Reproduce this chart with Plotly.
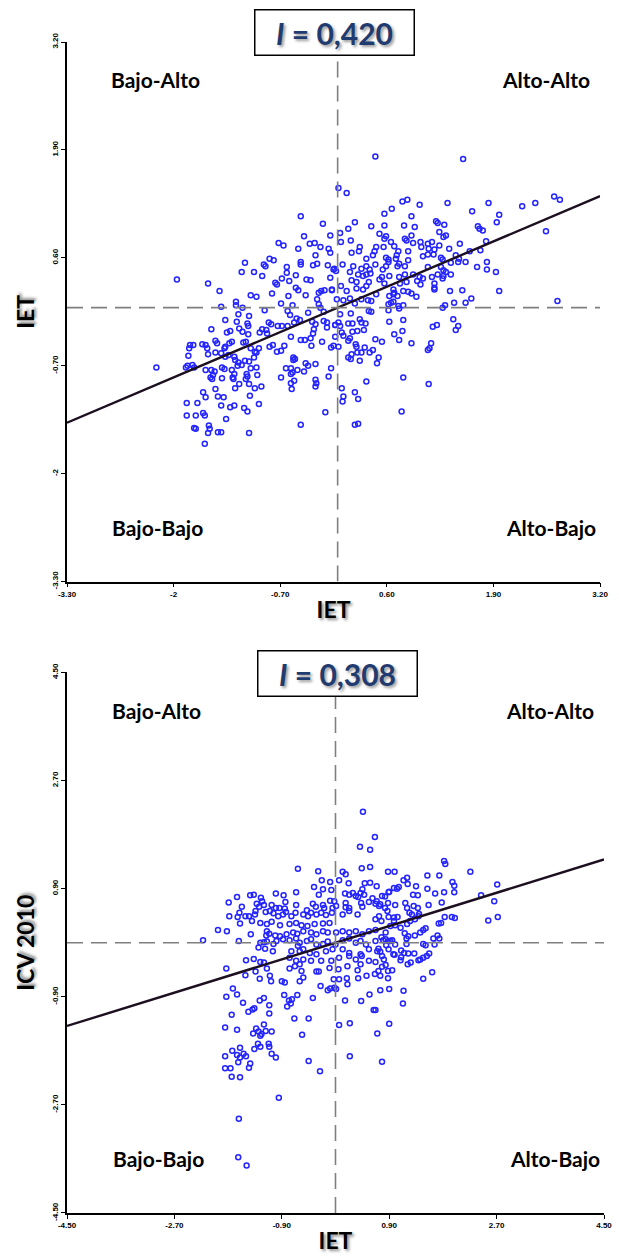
import plotly.graph_objects as go

# Moran scatter plots: IET vs spatial lag of IET, and IET vs ICV 2010
moran_i = [0.420, 0.308]
moran_text = ['0,420', '0,308']

ticks_1 = [-3.30, -2.0, -0.70, 0.60, 1.90, 3.20]
ticktext_1 = ['-3.30', '-2', '-0.70', '0.60', '1.90', '3.20']
ticks_2 = [-4.50, -2.70, -0.90, 0.90, 2.70, 4.50]
ticktext_2 = ['-4.50', '-2.70', '-0.90', '0.90', '2.70', '4.50']

quadrants = ['Bajo-Alto', 'Alto-Alto', 'Bajo-Bajo', 'Alto-Bajo']

points_1 = [
    (-0.45, 1.10), (-0.18, 1.01), (-0.41, 0.86), (-0.09, 0.87), (-0.72, 0.78), (-0.66, 0.75),
    (-0.48, 0.71), (-0.34, 0.77), (-0.28, 0.78), (-0.21, 0.73), (-0.11, 0.71), (-0.09, 0.66),
    (-0.27, 0.63), (-0.83, 0.59), (-0.78, 0.57), (-1.13, 0.54), (-0.90, 0.52), (-0.88, 0.50),
    (-0.62, 0.49), (-0.45, 0.55), (-0.45, 0.52), (-0.30, 0.51), (-0.25, 0.53), (-0.12, 0.51),
    (-0.05, 0.46), (-1.96, 0.34), (-1.58, 0.29), (-1.44, 0.20), (-1.17, 0.43), (-1.02, 0.43),
    (-0.92, 0.38), (-0.68, 0.35), (-0.62, 0.42), (-0.59, 0.32), (-0.51, 0.39), (-0.38, 0.34),
    (-0.33, 0.33), (-0.09, 0.36), (-0.76, 0.30), (-0.74, 0.28), (-0.51, 0.24), (-0.48, 0.21),
    (-1.06, 0.15), (-0.99, 0.13), (-0.80, 0.17), (-0.60, 0.14), (-0.39, 0.15), (-0.23, 0.18),
    (-0.20, 0.20), (-0.16, 0.21), (-0.07, 0.22),
    (-1.42, 0.01), (-1.24, 0.07), (-1.24, 0.03), (-1.16, 0.00), (-1.21, -0.08), (-1.08, -0.10),
    (-0.89, -0.03), (-0.69, 0.05), (-0.55, 0.03), (-0.61, -0.04), (-0.58, -0.09), (-0.50, -0.13),
    (-0.36, -0.06), (-0.25, 0.10), (-0.23, 0.04), (-0.21, 0.00), (-0.17, -0.05), (-1.37, -0.15),
    (-1.23, -0.17), (-1.10, -0.19), (-1.09, -0.22), (-1.20, -0.25), (-1.16, -0.29), (-1.35, -0.30),
    (-1.31, -0.28), (-1.54, -0.26), (-1.09, -0.32), (-0.95, -0.30), (-0.92, -0.26), (-0.87, -0.27),
    (-0.84, -0.18), (-0.81, -0.20), (-0.73, -0.22), (-0.68, -0.22), (-0.61, -0.22), (-0.53, -0.18),
    (-0.46, -0.15), (-0.31, -0.17), (-0.27, -0.20), (-0.29, -0.26), (-0.30, -0.31), (-0.17, -0.16),
    (-0.13, -0.24), (-0.03, -0.21), (-0.03, -0.35), (-0.86, -0.31), (-0.57, -0.35), (-0.45, -0.39),
    (-0.40, -0.39), (-0.33, -0.37), (-1.49, -0.40), (-1.47, -0.43), (-1.15, -0.42), (-1.12, -0.41),
    (-1.32, -0.43), (-1.29, -0.41), (-1.37, -0.47), (-1.42, -0.55), (-1.38, -0.49), (-1.06, -0.49),
    (-0.96, -0.49), (-0.79, -0.45), (-0.83, -0.47), (-0.74, -0.53), (-0.69, -0.52), (-0.65, -0.46),
    (-0.32, -0.46), (-0.19, -0.41), (-0.08, -0.48), (-0.05, -0.46), (-1.80, -0.45), (-1.76, -0.45),
    (-1.81, -0.49), (-1.82, -0.58), (-1.65, -0.44), (-1.59, -0.49), (-1.61, -0.45), (-1.49, -0.54),
    (-1.58, -0.56), (-1.37, -0.59), (-1.26, -0.59), (-1.33, -0.57), (-1.25, -0.63), (-1.21, -0.66),
    (-1.17, -0.69), (-1.22, -0.70), (-1.13, -0.64), (-1.08, -0.65), (-1.02, -0.60), (-1.01, -0.53),
    (-0.99, -0.54), (-1.85, -0.72), (-1.83, -0.70), (-1.77, -0.69), (-1.75, -0.72), (-1.61, -0.75),
    (-1.54, -0.75), (-1.52, -0.81), (-1.55, -0.84), (-1.53, -0.86), (-1.50, -0.77), (-1.41, -0.72),
    (-1.38, -0.74), (-1.41, -0.85), (-1.29, -0.75), (-1.26, -0.80), (-1.28, -0.84), (-1.27, -0.86),
    (-1.11, -0.80), (-1.10, -0.83), (-1.12, -0.86), (-1.08, -0.92), (-1.06, -0.73), (-0.99, -0.72),
    (-0.98, -0.81), (-2.21, -0.72), (-1.25, -0.97), (-1.20, -0.92), (-1.01, -0.97), (-0.93, -0.95),
    (-1.49, -0.98), (-1.64, -1.02), (-1.61, -1.08), (-1.46, -1.07), (-1.39, -1.08), (-1.07, -1.06),
    (-1.84, -1.15), (-1.71, -1.15), (-1.42, -1.18), (-1.31, -1.20), (-1.26, -1.18), (-1.14, -1.21),
    (-1.10, -1.25), (-0.96, -1.16), (-1.84, -1.30), (-1.73, -1.30), (-1.64, -1.27), (-1.62, -1.30),
    (-1.36, -1.34), (-1.75, -1.45), (-1.73, -1.46), (-1.57, -1.42), (-1.56, -1.46), (-1.58, -1.51),
    (-1.46, -1.50), (-1.42, -1.50), (-1.08, -1.51), (-1.62, -1.64), (-0.69, -0.84), (-0.63, -0.73),
    (-0.57, -0.73), (-0.57, -0.80), (-0.55, -0.78), (-0.57, -0.91), (-0.56, -0.98), (-0.53, -0.88),
    (-0.49, -0.75), (-0.41, -0.77), (-0.39, -0.67), (-0.36, -0.70), (-0.27, -0.68), (-0.54, -0.60),
    (-0.52, -0.62), (-0.54, -0.63), (-0.27, -0.87), (-0.26, -0.91), (-0.27, -0.95), (-0.11, -0.83),
    (-0.08, -0.73), (-0.45, -1.41), (-0.15, -1.26),
    (-0.01, 0.10), (0.07, 0.09), (0.15, 0.11), (-0.07, 0.21), (0.21, 0.05), (0.29, 0.10),
    (0.37, 0.09), (0.41, 0.08), (0.03, -0.08), (0.16, -0.07), (0.38, -0.04), (0.41, -0.05),
    (-0.13, -0.18), (-0.03, -0.21), (0.01, -0.18), (0.03, -0.22), (0.13, -0.19), (0.18, -0.19),
    (0.27, -0.14), (0.29, -0.18), (0.34, -0.19), (0.05, -0.30), (0.07, -0.34), (0.13, -0.40),
    (0.15, -0.37), (0.18, -0.29), (0.24, -0.28), (0.32, -0.27), (0.01, -0.47), (0.22, -0.44),
    (0.23, -0.47), (0.33, -0.48), (0.43, -0.51), (0.39, -0.54), (0.46, -0.38), (0.54, -0.41),
    (0.24, -0.54), (0.29, -0.54), (0.13, -0.60), (0.16, -0.62), (0.17, -0.56), (0.27, -0.64),
    (0.50, -0.60), (0.48, -0.67), (0.35, -0.89), (0.05, -0.97), (0.07, -1.07), (0.06, -1.13),
    (0.21, -1.02), (0.25, -1.10), (0.21, -1.41), (0.25, -1.40), (0.63, -0.17), (0.62, -0.03),
    (0.62, 0.04), (0.65, 0.06), (0.68, 0.07), (0.74, 0.02), (0.75, -0.01), (0.80, 0.03),
    (0.63, 0.14), (0.68, 0.16), (0.73, 0.14), (0.80, -0.15), (0.79, -0.28), (0.69, -0.32),
    (0.75, -0.39), (0.90, -0.43), (0.80, -0.84), (0.78, -1.25), (0.80, 0.20), (0.86, 0.19),
    (0.90, 0.17), (0.96, 0.13), (1.18, 0.22), (1.28, 0.00), (1.31, 0.03), (1.16, -0.23),
    (1.21, -0.21), (1.14, -0.43), (1.12, -0.49), (1.10, -0.51), (1.11, -0.92), (1.37, 0.20),
    (1.52, 0.21), (1.42, 0.06), (1.56, 0.06), (1.63, 0.11), (1.41, -0.14), (1.47, -0.22),
    (1.44, -0.27), (1.97, 0.20), (2.68, 0.08),
    (0.46, 1.82), (1.53, 1.79), (0.01, 1.44), (0.11, 1.38), (0.79, 1.28), (0.85, 1.30),
    (1.00, 1.24), (1.34, 1.26), (1.84, 1.26), (2.25, 1.22), (2.41, 1.26), (2.64, 1.34),
    (2.71, 1.30), (0.66, 1.19), (0.57, 1.13), (1.64, 1.16), (0.90, 1.10), (1.97, 1.12),
    (1.94, 1.03), (0.21, 1.03), (0.41, 0.98), (0.57, 0.99), (0.81, 0.99), (0.94, 0.97),
    (1.20, 1.04), (1.22, 1.02), (1.30, 1.00), (1.71, 0.98), (1.73, 0.95), (1.77, 0.93),
    (2.54, 0.92), (0.03, 0.90), (0.13, 0.95), (0.51, 0.89), (0.59, 0.86), (0.57, 0.83),
    (0.82, 0.83), (0.84, 0.81), (0.90, 0.87), (1.24, 0.91), (1.29, 0.85), (1.32, 0.87),
    (0.04, 0.79), (0.16, 0.81), (0.65, 0.79), (0.69, 0.74), (0.92, 0.78), (1.01, 0.79),
    (1.02, 0.73), (1.10, 0.77), (1.15, 0.79), (1.11, 0.71), (1.18, 0.70), (1.24, 0.75),
    (1.36, 0.71), (1.49, 0.77), (1.81, 0.80), (0.17, 0.66), (0.27, 0.73), (0.26, 0.68),
    (0.47, 0.73), (0.45, 0.68), (0.56, 0.73), (0.74, 0.68), (0.72, 0.63), (0.71, 0.59),
    (0.86, 0.68), (1.04, 0.62), (1.10, 0.64), (1.17, 0.64), (1.26, 0.60), (1.28, 0.58),
    (1.44, 0.63), (1.48, 0.59), (1.61, 0.68), (1.74, 0.69), (0.35, 0.59), (0.43, 0.63),
    (0.59, 0.60), (0.62, 0.58), (0.62, 0.55), (0.06, 0.52), (0.19, 0.50), (0.29, 0.47),
    (0.35, 0.50), (0.39, 0.46), (0.46, 0.52), (0.55, 0.46), (0.59, 0.50), (0.73, 0.50),
    (0.75, 0.53), (0.86, 0.57), (0.82, 0.50), (1.10, 0.49), (1.26, 0.49), (1.29, 0.45),
    (1.38, 0.54), (1.47, 0.55), (1.56, 0.55), (1.70, 0.49), (1.82, 0.55), (1.82, 0.46),
    (1.93, 0.43), (-0.04, 0.47), (-0.02, 0.44), (0.15, 0.43), (0.25, 0.40), (0.31, 0.38),
    (0.35, 0.40), (0.40, 0.41), (0.54, 0.37), (0.63, 0.38), (0.75, 0.37), (0.82, 0.40),
    (0.92, 0.40), (1.00, 0.37), (1.04, 0.35), (0.97, 0.32), (1.15, 0.37), (1.22, 0.40),
    (1.32, 0.43), (1.29, 0.38), (1.38, 0.40), (0.17, 0.33), (0.23, 0.31), (0.38, 0.31),
    (0.51, 0.34), (0.57, 0.29), (0.76, 0.29), (0.84, 0.31), (1.01, 0.28), (1.18, 0.29),
    (1.18, 0.24), (1.28, 0.35), (0.04, 0.26), (0.11, 0.20), (0.23, 0.23), (0.31, 0.22),
    (0.35, 0.26), (0.68, 0.22), (0.69, 0.18), (0.47, 0.16),
]

points_2 = [
    (0.46, 2.18), (0.66, 1.76), (0.41, 1.60), (0.58, 1.55), (-0.63, 1.23), (-0.29, 1.19),
    (0.12, 1.18), (0.17, 1.14), (0.44, 1.24), (0.58, 1.26), (0.88, 1.18), (0.99, 1.18),
    (-0.23, 1.04), (-0.36, 0.93), (-0.09, 1.01), (0.06, 1.04), (0.22, 0.99), (0.49, 0.99),
    (0.58, 1.00), (0.69, 0.94), (-0.21, 0.89), (-0.28, 0.80), (-0.07, 0.88), (0.45, 0.89),
    (0.42, 0.83), (0.48, 0.80), (0.16, 0.82), (0.23, 0.80), (0.29, 0.83), (0.34, 0.78),
    (0.38, 0.76), (0.62, 0.74), (0.69, 0.69), (0.78, 0.78), (0.83, 0.77), (0.89, 0.84),
    (0.98, 0.91), (-1.79, 0.67), (-1.65, 0.76), (-1.43, 0.79), (-1.37, 0.80), (-1.25, 0.75),
    (-1.23, 0.69), (-1.32, 0.65), (-1.20, 0.63), (-1.28, 0.60), (-1.57, 0.60), (-1.00, 0.82),
    (-0.87, 0.79), (-0.84, 0.68), (-1.07, 0.63), (-1.00, 0.58), (-0.94, 0.58), (-0.85, 0.57),
    (-0.66, 0.84), (-0.66, 0.63), (-0.48, 0.54), (-0.38, 0.65), (-0.33, 0.60), (-0.21, 0.63),
    (-0.19, 0.58), (-0.09, 0.70), (-0.02, 0.69), (0.01, 0.61), (-0.05, 0.58), (0.17, 0.66),
    (0.17, 0.59), (0.23, 0.58), (0.43, 0.66), (0.45, 0.60), (0.56, 0.68), (0.67, 0.65),
    (0.73, 0.61), (0.83, 0.58), (0.88, 0.66),
    (1.82, 1.36), (1.84, 1.31), (1.54, 1.12), (1.74, 1.12), (2.26, 1.18), (1.14, 1.04),
    (1.20, 1.08), (1.21, 0.98), (1.06, 0.93), (1.03, 0.90), (0.90, 0.85), (1.35, 0.94),
    (1.54, 0.90), (1.30, 0.80), (1.38, 0.79), (1.67, 0.82), (1.82, 0.84), (1.96, 1.01),
    (1.99, 0.95), (1.99, 0.84), (2.44, 0.79), (2.71, 0.97), (2.66, 0.69), (0.75, 0.64),
    (1.00, 0.63), (1.17, 0.66), (1.20, 0.58), (1.31, 0.61), (1.38, 0.58), (1.56, 0.63),
    (1.78, 0.67),
    (0.87, 0.53), (0.67, 0.39), (0.73, 0.44), (0.77, 0.36), (0.89, 0.43), (0.98, 0.42),
    (1.04, 0.43), (0.98, 0.36), (1.24, 0.50), (1.28, 0.47), (1.40, 0.48), (1.39, 0.44),
    (0.92, 0.28), (1.00, 0.29), (1.09, 0.25), (1.20, 0.31), (1.33, 0.39), (1.25, 0.36),
    (1.83, 0.43), (1.95, 0.43), (2.00, 0.41), (1.73, 0.32), (1.77, 0.33), (2.56, 0.37),
    (2.72, 0.43), (0.67, 0.21), (0.84, 0.17), (0.77, 0.09), (0.80, 0.04), (0.89, 0.03),
    (0.95, 0.04), (1.16, 0.16), (1.22, 0.11), (1.33, 0.12), (1.42, 0.17), (1.47, 0.21),
    (1.51, 0.24), (1.19, 0.07), (1.19, -0.02), (1.00, -0.03), (0.85, -0.04), (1.64, 0.07),
    (1.71, 0.12), (1.74, 0.07), (1.66, -0.03), (1.47, -0.02), (1.51, -0.04), (0.72, -0.10),
    (0.75, -0.15), (0.78, -0.22), (1.10, -0.13), (1.15, -0.17), (0.99, -0.20), (1.10, -0.24),
    (1.09, -0.29), (1.22, -0.18), (1.32, -0.18), (1.39, -0.29), (1.42, -0.28), (1.47, -0.25),
    (1.53, -0.22), (1.57, -0.18), (1.21, -0.36), (1.26, -0.33), (0.78, -0.40), (0.84, -0.37),
    (0.88, -0.47), (0.95, -0.46), (0.72, -0.47), (0.75, -0.55), (0.88, -0.59), (1.47, -0.60),
    (1.62, -0.49), (0.75, -0.79), (0.90, -0.77), (1.14, -0.80), (1.13, -1.01), (0.67, -1.12),
    (0.90, -1.35), (0.70, -1.51),
    (-1.78, 0.44), (-1.61, 0.50), (-1.64, 0.43), (-1.51, 0.44), (-1.45, 0.44), (-1.35, 0.47),
    (-1.34, 0.53), (-1.17, 0.51), (-1.10, 0.53), (-1.04, 0.49), (-0.96, 0.44), (-0.88, 0.47),
    (-0.83, 0.51), (-0.74, 0.44), (-0.67, 0.50), (-0.54, 0.47), (-0.46, 0.44), (-0.41, 0.50),
    (-0.32, 0.47), (-0.24, 0.50), (-0.16, 0.46), (-0.06, 0.50), (0.12, 0.47), (0.23, 0.53),
    (0.37, 0.47), (-1.60, 0.32), (-1.40, 0.36), (-1.26, 0.33), (-1.15, 0.31), (-1.07, 0.35),
    (-0.93, 0.29), (-0.77, 0.31), (-0.66, 0.33), (-0.57, 0.29), (-0.47, 0.28), (-0.35, 0.31),
    (-0.21, 0.32), (-0.10, 0.33), (-1.97, 0.21), (-1.82, 0.19), (-1.15, 0.19), (-1.16, 0.12),
    (-1.11, 0.15), (-1.01, 0.12), (-1.42, 0.14), (-0.93, 0.11), (-0.82, 0.14), (-0.71, 0.17),
    (-0.64, 0.15), (-0.54, 0.19), (-0.41, 0.17), (-0.32, 0.14), (-0.21, 0.19), (-0.13, 0.17),
    (0.01, 0.17), (0.12, 0.19), (0.23, 0.17), (0.34, 0.19), (0.45, 0.14), (0.56, 0.19),
    (-2.22, 0.04), (-1.62, 0.03), (-1.26, 0.00), (-1.20, 0.01), (-1.15, 0.02), (-1.04, -0.02),
    (-1.29, -0.08), (-1.18, -0.10), (-1.05, -0.14), (-0.99, 0.03), (-0.88, 0.06), (-0.77, 0.04),
    (-0.66, 0.07), (-0.60, 0.00), (-0.63, -0.05), (-0.48, 0.03), (-0.41, 0.06), (-0.32, -0.03),
    (-0.21, -0.02), (-0.13, 0.02), (0.00, -0.03), (0.12, 0.04), (0.23, 0.07), (0.34, 0.00),
    (0.42, 0.03), (0.51, -0.03), (0.67, 0.03), (0.84, 0.06), (0.92, 0.03), (-0.74, -0.14),
    (-0.60, -0.14), (-0.54, -0.11), (-0.43, -0.17), (-0.32, -0.19), (-0.16, -0.14), (-0.05, -0.11),
    (0.12, -0.11), (0.23, -0.17), (0.42, -0.19), (0.56, -0.11), (0.70, -0.14), (0.89, -0.11),
    (-1.50, -0.29), (-1.37, -0.27), (-1.26, -0.32), (-1.20, -0.33), (-0.77, -0.25), (-0.66, -0.30),
    (-0.54, -0.28), (-0.41, -0.30), (-0.24, -0.30), (-0.07, -0.30), (0.06, -0.25), (0.23, -0.22),
    (0.34, -0.28), (0.44, -0.22), (0.56, -0.30), (0.67, -0.32), (0.81, -0.28), (0.97, -0.19),
    (-1.83, -0.43), (-1.51, -0.54), (-1.34, -0.48), (-1.15, -0.43), (-0.77, -0.43), (-0.68, -0.39),
    (-0.60, -0.36), (-0.57, -0.47), (-0.32, -0.48), (-0.28, -0.48), (-0.10, -0.42), (0.05, -0.44),
    (0.20, -0.39), (0.37, -0.46), (0.42, -0.36), (-1.27, -0.60), (-1.10, -0.55), (-1.08, -0.64),
    (-0.90, -0.64), (-0.85, -0.66), (-0.60, -0.64), (-0.54, -0.58), (-0.25, -0.72), (-0.13, -0.79),
    (-0.09, -0.76), (-0.02, -0.75), (0.01, -0.77), (-0.03, -0.61), (0.06, -0.61), (0.19, -0.59),
    (0.20, -0.69), (0.38, -0.59), (0.52, -0.55), (0.66, -0.52), (-1.72, -0.76), (-1.65, -0.86),
    (-1.83, -0.90), (-1.55, -1.00), (-1.27, -0.96), (-1.20, -0.92), (-1.11, -1.04), (-0.86, -0.87),
    (-0.78, -0.96), (-0.73, -0.94), (-0.75, -1.01), (-0.81, -1.06), (-0.64, -0.87), (-0.38, -0.92),
    (0.16, -0.96), (0.43, -0.97), (0.57, -0.86), (-1.74, -1.20), (-1.46, -1.15), (-1.39, -1.11),
    (-1.36, -1.09), (-1.11, -1.18), (-0.69, -1.26), (-0.45, -1.26), (0.64, -1.12), (-1.85, -1.41),
    (-1.65, -1.45), (-1.33, -1.43), (-1.29, -1.48), (-1.38, -1.51), (-1.20, -1.36), (-1.17, -1.47),
    (-1.24, -1.52), (-1.07, -1.48), (-1.26, -1.55), (-0.56, -1.53), (0.06, -1.37), (0.24, -1.34),
    (-1.26, -1.73), (-1.30, -1.68), (-1.12, -1.68), (-1.11, -1.73), (-1.36, -1.77), (-1.73, -1.80),
    (-1.60, -1.75), (-1.65, -1.87), (-1.54, -1.85), (-1.50, -1.89), (-1.60, -1.91), (-1.63, -1.99),
    (-1.43, -2.01), (-1.45, -2.08), (-1.85, -1.89), (-1.07, -1.85), (-1.00, -1.91), (-0.45, -1.97),
    (0.24, -1.89), (0.78, -1.98), (-1.85, -2.09), (-1.76, -2.09), (-1.74, -2.23), (-1.60, -2.24),
    (-0.26, -2.14), (-0.95, -2.58), (-1.62, -2.93), (-1.63, -3.57), (-1.49, -3.71),
]

panels = [
    dict(points=points_1, ticks=ticks_1, ticktext=ticktext_1, xtitle='IET', ytitle='IET'),
    dict(points=points_2, ticks=ticks_2, ticktext=ticktext_2, xtitle='IET', ytitle='ICV 2010'),
]

# paper domains of the two panels (the upper one is a little narrower)
x_domains = [[0.0, 0.9927], [0.0, 1.0]]
y_domains = [[0.5392, 1.0], [0.0, 0.4616]]

label_font = dict(family='Lato', size=21, color='black', weight='bold')
title_font = dict(family='Lato', size=23, color='black', weight='bold',
                  shadow='2px 2px 3px rgba(0,0,0,0.45)')
tick_font = dict(family='Liberation Sans', size=8, color='black', weight='bold')

fig = go.Figure()

for k, p in enumerate(panels):
    xs = [pt[0] for pt in p['points']]
    ys = [pt[1] for pt in p['points']]
    lo, hi = p['ticks'][0], p['ticks'][-1]
    xa = 'x' if k == 0 else 'x2'
    ya = 'y' if k == 0 else 'y2'

    fig.add_trace(go.Scatter(x=xs, y=ys, mode='markers', xaxis=xa, yaxis=ya,
                             marker=dict(symbol='circle-open', size=5, color='#2424ff',
                                         line=dict(width=1.5, color='#2424ff')),
                             hoverinfo='skip'))

    # dashed reference lines at the means
    fig.add_shape(type='line', xref=xa, yref=ya, x0=0, x1=0, y0=lo, y1=hi,
                  line=dict(color='#7f7f7f', width=1.6, dash='16px,8px'))
    fig.add_shape(type='line', xref=xa, yref=ya, x0=lo, x1=hi, y0=0, y1=0,
                  line=dict(color='#7f7f7f', width=1.6, dash='16px,8px'))

    # Moran regression line, slope = I
    fig.add_trace(go.Scatter(x=[lo, hi], y=[moran_i[k] * lo, moran_i[k] * hi], mode='lines',
                             xaxis=xa, yaxis=ya, line=dict(color='#1c0f1f', width=2.4),
                             hoverinfo='skip'))

    axis_common = dict(range=[lo, hi], tickmode='array', tickvals=p['ticks'], ticktext=p['ticktext'],
                       showline=True, linecolor='black', linewidth=1.5, ticks='outside', ticklen=4,
                       tickcolor='black', showgrid=False, zeroline=False, tickfont=tick_font)
    suffix = '' if k == 0 else '2'
    fig.update_layout({
        'xaxis' + suffix: dict(axis_common, domain=x_domains[k], anchor=ya,
                               title=dict(text=p['xtitle'], font=title_font, standoff=4)),
        'yaxis' + suffix: dict(axis_common, domain=y_domains[k], anchor=xa, tickangle=-90,
                               title=dict(text=p['ytitle'], font=title_font, standoff=10)),
    })

    # quadrant labels
    for q, (qx, qy) in zip(quadrants, [(0.166, 0.93), (0.899, 0.93), (0.17, 0.10), (0.908, 0.10)]):
        fig.add_annotation(text=q, xref=xa + ' domain', yref=ya + ' domain', x=qx, y=qy,
                           xanchor='center', yanchor='middle', showarrow=False, font=label_font)

    # Moran's I box
    box_x = [0.499, 0.504][k]
    box_y = [1.0077, 0.4603][k]
    fig.add_annotation(text=f'<i>I</i> = {moran_text[k]}', xref='paper', yref='paper',
                       x=box_x, y=box_y, xanchor='center', yanchor='middle', showarrow=False,
                       width=156, height=42, bgcolor='white', bordercolor='black', borderwidth=1.5,
                       font=dict(family='Lato', size=30, color='#1f3b70', weight='bold',
                                 shadow='2px 2px 3px rgba(0,0,0,0.4)'))

fig.update_layout(width=619, height=1257, margin=dict(l=67, r=7, t=42, b=43),
                  paper_bgcolor='white', plot_bgcolor='white', showlegend=False)

# drop the default page margin so the figure fills the window exactly
fig.write_html('out.html', config={'displayModeBar': False},
               post_script="document.body.style.margin='0';")
